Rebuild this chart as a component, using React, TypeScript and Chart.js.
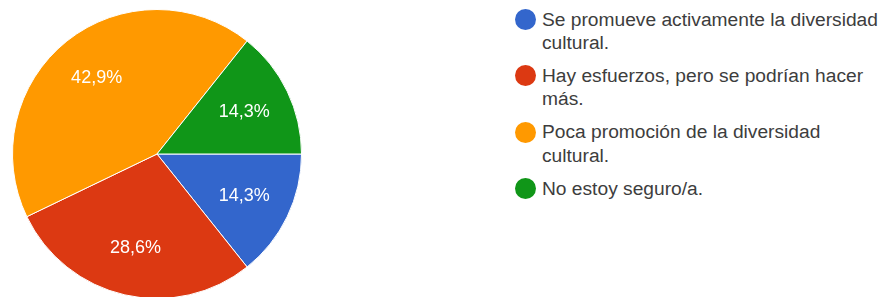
import React, { useEffect, useRef } from "react";
import { Chart, registerables } from "chart.js";

Chart.register(...registerables);

const categories = [
  "Se promueve activamente la diversidad cultural.",
  "Hay esfuerzos, pero se podrían hacer más.",
  "Poca promoción de la diversidad cultural.",
  "No estoy seguro/a.",
];
const counts = [1, 2, 3, 1];
const colors = ["#3366cc", "#dc3912", "#ff9900", "#109618"];

const FONT = "'Liberation Sans', Arial, sans-serif";

const pieLabels = {
  id: "pieLabels",
  afterDatasetsDraw(chart: any) {
    const ctx = chart.ctx;
    const meta = chart.getDatasetMeta(0);
    const data = chart.data.datasets[0].data as number[];
    const total = data.reduce((a, b) => a + b, 0);
    ctx.save();
    ctx.fillStyle = "#ffffff";
    ctx.font = `18px ${FONT}`;
    ctx.textAlign = "center";
    ctx.textBaseline = "middle";
    meta.data.forEach((arc: any, i: number) => {
      const p = arc.getProps(["x", "y", "startAngle", "endAngle", "outerRadius"], true);
      const mid = (p.startAngle + p.endAngle) / 2;
      const r = p.outerRadius * 0.67;
      const txt = ((data[i] / total) * 100).toFixed(1).replace(".", ",") + "%";
      ctx.fillText(txt, p.x + Math.cos(mid) * r, p.y + Math.sin(mid) * r);
    });
    ctx.restore();
  },
};

export default function App() {
  const ref = useRef<HTMLCanvasElement>(null);
  useEffect(() => {
    document.body.style.margin = "0";
    const chart = new Chart(ref.current!, {
      type: "pie",
      data: {
        labels: categories,
        datasets: [
          {
            data: counts,
            backgroundColor: colors,
            borderColor: "#ffffff",
            borderWidth: 1,
          },
        ],
      },
      options: {
        animation: false,
        responsive: false,
        maintainAspectRatio: false,
        devicePixelRatio: 1,
        rotation: 90,
        layout: { padding: 0 },
        plugins: {
          legend: { display: false },
          tooltip: { enabled: false },
        },
      },
      plugins: [pieLabels],
    });
    return () => chart.destroy();
  }, []);

  return (
    <div
      style={{
        position: "relative",
        width: 883,
        height: 297,
        overflow: "hidden",
        background: "#ffffff",
        fontFamily: FONT,
      }}
    >
      <canvas
        ref={ref}
        width={290}
        height={290}
        style={{ position: "absolute", left: 12, top: 9, width: 290, height: 290 }}
      />
      <div style={{ position: "absolute", left: 515, top: 8, width: 368 }}>
        {categories.map((c, i) => (
          <div
            key={i}
            style={{ position: "relative", paddingLeft: 27, marginBottom: 9.6, minHeight: 23.3 }}
          >
            <span
              style={{
                position: "absolute",
                left: 0,
                top: 1.2,
                width: 21,
                height: 21,
                borderRadius: "50%",
                background: colors[i],
              }}
            />
            <div
              style={{
                width: 341,
                fontSize: 19.2,
                lineHeight: "23.3px",
                color: "#3d3d3d",
              }}
            >
              {c}
            </div>
          </div>
        ))}
      </div>
    </div>
  );
}
